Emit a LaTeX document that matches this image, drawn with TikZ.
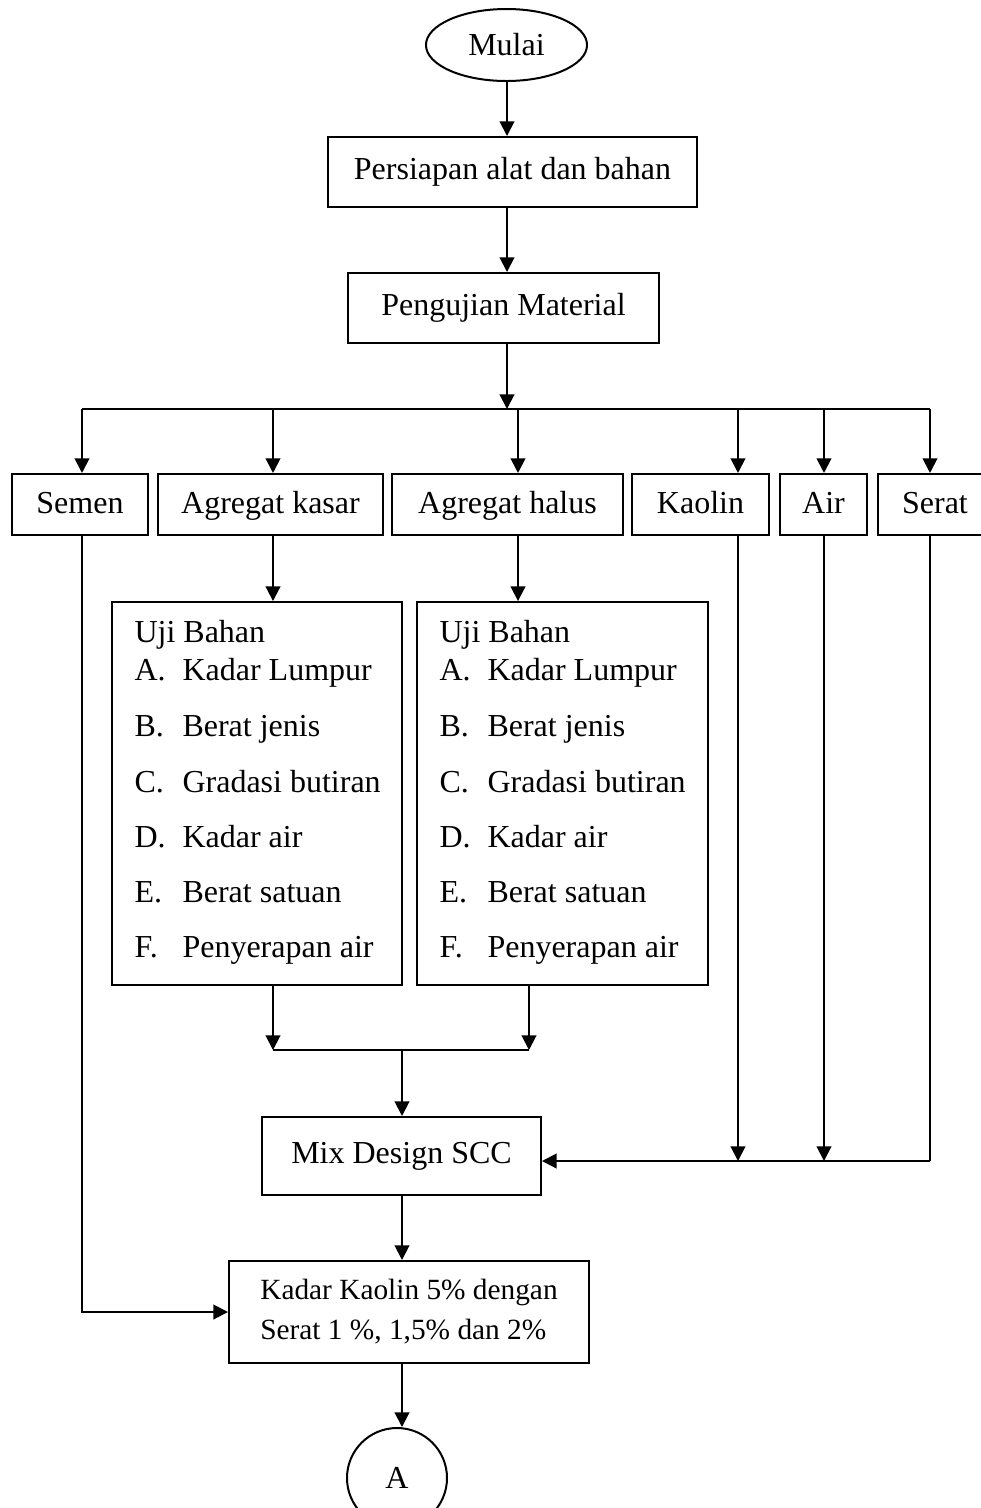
\documentclass[tikz,border=0pt]{standalone}
\usepackage{fontspec}
\setmainfont{Liberation Serif}
\usetikzlibrary{shapes.geometric,arrows.meta}
\tikzset{
    box/.style={draw=black, line width=0.75pt, inner sep=0pt, font=\fontsize{12}{14}\selectfont},
    bahan/.style={box, minimum height=22.9pt, text height=9pt, text depth=1.9pt},
    ln/.style={black, line width=0.75pt},
    arr/.style={black, line width=0.75pt, -{Triangle[length=5.5pt,width=5.5pt]}},
    txt/.style={anchor=base west, inner sep=0pt, font=\fontsize{12}{14}\selectfont}
}
\newcommand{\UjiBahan}[3]{
    \node[txt] (#1-judul) at (#2,642) {Uji Bahan};
    \foreach \huruf/\isi/\y in {A/Kadar Lumpur/680, B/Berat jenis/736, C/Gradasi butiran/792,
                               D/Kadar air/847, E/Berat satuan/902, F/Penyerapan air/957}{
        \node[txt] (#1-\huruf) at (#2,\y) {\huruf.};
        \node[txt] (#1-\huruf-isi) at (#3,\y) {\isi};
    }
}

\begin{document}
\begin{tikzpicture}[x=0.375pt, y=-0.375pt]
    \useasboundingbox (0,0) rectangle (981,1508);
    \clip (0,0) rectangle (981,1508);

    \node[box, ellipse, minimum width=60.4pt, minimum height=27pt] (mulai) at (506.5,45) {Mulai};
    \node[box, minimum width=138.4pt, minimum height=26.25pt] (persiapan) at (512.5,172) {Persiapan alat dan bahan};
    \node[box, minimum width=116.6pt, minimum height=26.25pt] (pengujian) at (503.5,308) {Pengujian Material};

    \node[bahan, minimum width=51pt] (semen) at (80,504.5) {Semen};
    \node[bahan, minimum width=84.4pt] (kasar) at (270.5,504.5) {Agregat kasar};
    \node[bahan, minimum width=86.6pt] (halus) at (507.5,504.5) {Agregat halus};
    \node[bahan, minimum width=51.4pt] (kaolin) at (700.5,504.5) {Kaolin};
    \node[bahan, minimum width=32.6pt] (air) at (823.5,504.5) {Air};
    \node[bahan, minimum width=42.75pt] (serat) at (935,504.5) {Serat};

    \node[box, minimum width=108.75pt, minimum height=143.6pt] (uji1) at (257,793.5) {};
    \node[box, minimum width=109.1pt, minimum height=143.6pt] (uji2) at (562.5,793.5) {};
    \UjiBahan{uji1}{134}{182}
    \UjiBahan{uji2}{439}{487}

    \node[box, minimum width=104.6pt, minimum height=29.25pt] (mix) at (401.5,1156) {Mix Design SCC};
    \node[box, minimum width=135pt, minimum height=38.25pt, align=left,
          font=\fontsize{11}{15}\selectfont] (kadar) at (409,1312)
          {Kadar Kaolin 5\% dengan\\Serat 1 \%, 1,5\% dan 2\%};
    \node[box, circle, minimum size=37.5pt] (A) at (397,1478) {A};

    \coordinate (pusat) at (507,409);
    \coordinate (b1) at (82,409);
    \coordinate (b2) at (273,409);
    \coordinate (b3) at (518,409);
    \coordinate (b4) at (738,409);
    \coordinate (b5) at (824,409);
    \coordinate (b6) at (930,409);
    \coordinate (j1) at (273,1050);
    \coordinate (j2) at (529,1050);
    \coordinate (j3) at (402,1050);
    \coordinate (r6) at (930,1161);

    \draw[arr] (mulai.south -| pusat) -- (pusat |- persiapan.north);
    \draw[arr] (persiapan.south -| pusat) -- (pusat |- pengujian.north);
    \draw[arr] (pengujian.south -| pusat) -- (pusat);
    \draw[ln] (b1) -- (b6);
    \foreach \b/\n in {b1/semen, b2/kasar, b3/halus, b4/kaolin, b5/air, b6/serat}
        \draw[arr] (\b) -- (\b |- \n.north);

    \draw[arr] (b2 |- kasar.south) -- (b2 |- uji1.north);
    \draw[arr] (b3 |- halus.south) -- (b3 |- uji2.north);
    \draw[arr] (j1 |- uji1.south) -- (j1);
    \draw[arr] (j2 |- uji2.south) -- (j2);
    \draw[ln] (j1) -- (j2);
    \draw[arr] (j3) -- (j3 |- mix.north);

    \draw[arr] (b4 |- kaolin.south) -- (b4 |- r6);
    \draw[arr] (b5 |- air.south) -- (b5 |- r6);
    \draw[ln] (b6 |- serat.south) -- (r6);
    \draw[arr] (r6) -- (r6 -| mix.east);

    \draw[arr] (semen.south -| b1) -- (b1 |- kadar.west) -- (kadar.west);
    \draw[arr] (j3 |- mix.south) -- (j3 |- kadar.north);
    \draw[arr] (j3 |- kadar.south) -- (j3 |- A.north);
\end{tikzpicture}
\end{document}
